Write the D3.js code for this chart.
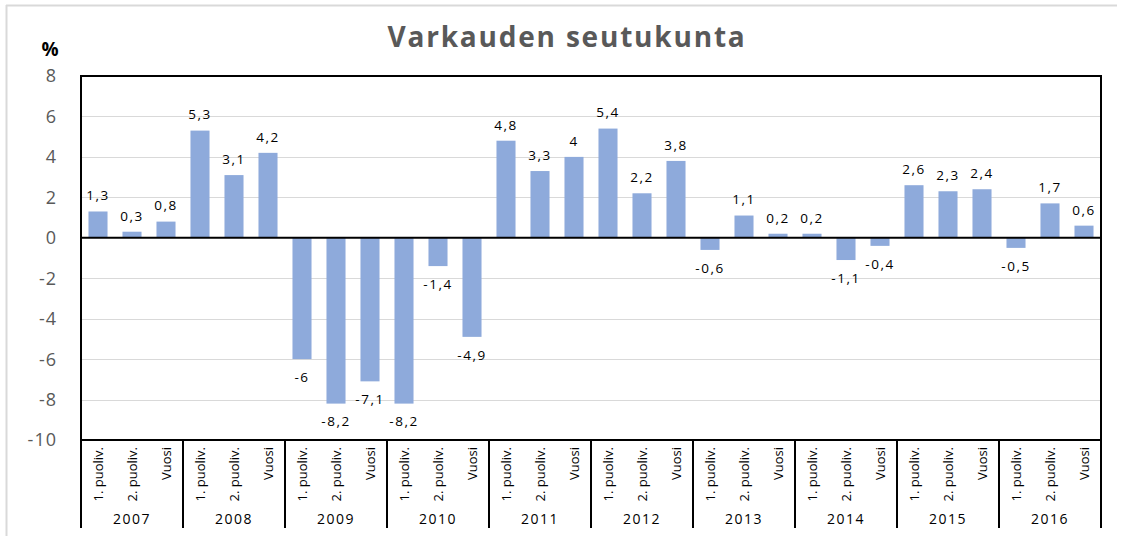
<!DOCTYPE html>
<html>
<head>
<meta charset="utf-8">
<script src="https://cdn.jsdelivr.net/npm/d3@7"></script>
<style>
  body { margin: 0; background: #fff; }
  svg text { font-family: "Open Sans", "Noto Sans", sans-serif; }
</style>
</head>
<body>
<svg id="chart" width="1126" height="536"></svg>
<script>
const years = ["2007", "2008", "2009", "2010", "2011", "2012", "2013", "2014", "2015", "2016"];
const periods = ["1. puoliv.", "2. puoliv.", "Vuosi"];
const values = [
  1.3, 0.3, 0.8,
  5.3, 3.1, 4.2,
  -6, -8.2, -7.1,
  -8.2, -1.4, -4.9,
  4.8, 3.3, 4,
  5.4, 2.2, 3.8,
  -0.6, 1.1, 0.2,
  0.2, -1.1, -0.4,
  2.6, 2.3, 2.4,
  -0.5, 1.7, 0.6
];
const yTicks = [8, 6, 4, 2, 0, -2, -4, -6, -8, -10];

const plotLeft = 81, plotRight = 1101, plotTop = 76, plotBottom = 440, axisBottom = 528;
const svg = d3.select("#chart");

const rows = [];
years.forEach((yr, i) => periods.forEach((p, j) => {
  rows.push({ year: yr, period: p, value: values[i * 3 + j], idx: i * 3 + j });
}));

const x = d3.scaleBand()
  .domain(rows.map(d => d.idx))
  .range([plotLeft, plotRight])
  .paddingInner(0.44)
  .paddingOuter(0.22);
const step = x.step();

const y = d3.scaleLinear().domain([-10, 8]).range([plotBottom, plotTop]);

// outer chart frame (only top and left edges show)
svg.append("line").attr("x1", 6).attr("x2", 1117).attr("y1", 5.5).attr("y2", 5.5)
  .attr("stroke", "#d9d9d9").attr("stroke-width", 2);
svg.append("line").attr("x1", 6.5).attr("x2", 6.5).attr("y1", 5).attr("y2", 536)
  .attr("stroke", "#d9d9d9").attr("stroke-width", 2);

// gridlines
svg.append("g")
  .selectAll("line")
  .data(yTicks.filter(t => t !== 0 && t !== 8 && t !== -10))
  .join("line")
  .attr("x1", plotLeft).attr("x2", plotRight)
  .attr("y1", d => Math.round(y(d)) + 0.5).attr("y2", d => Math.round(y(d)) + 0.5)
  .attr("stroke", "#d9d9d9").attr("stroke-width", 1);

// y tick labels
svg.append("g")
  .selectAll("text")
  .data(yTicks)
  .join("text")
  .attr("x", 57)
  .attr("y", d => y(d))
  .attr("dy", "0.36em")
  .attr("text-anchor", "end")
  .attr("font-size", 18)
  .attr("letter-spacing", 1)
  .attr("fill", "#595959")
  .text(d => d);

// bars
svg.append("g")
  .selectAll("rect")
  .data(rows)
  .join("rect")
  .attr("x", d => x(d.idx))
  .attr("width", x.bandwidth())
  .attr("y", d => y(Math.max(0, d.value)))
  .attr("height", d => Math.abs(y(d.value) - y(0)))
  .attr("fill", "#8eaadb");

// data labels
const fmt = v => String(v).replace(".", ",");
svg.append("g")
  .selectAll("text")
  .data(rows)
  .join("text")
  .attr("x", d => x(d.idx) + x.bandwidth() / 2)
  .attr("y", d => d.value >= 0 ? y(d.value) - 16 : y(d.value) + 18)
  .attr("dy", "0.36em")
  .attr("text-anchor", "middle")
  .attr("font-size", 13.5)
  .attr("letter-spacing", 1.5)
  .attr("fill", "#000")
  .text(d => fmt(d.value));

// zero line
svg.append("line")
  .attr("x1", plotLeft).attr("x2", plotRight)
  .attr("y1", y(0)).attr("y2", y(0))
  .attr("stroke", "#000").attr("stroke-width", 2);

// plot frame
svg.append("rect")
  .attr("x", plotLeft).attr("y", plotTop)
  .attr("width", plotRight - plotLeft).attr("height", plotBottom - plotTop)
  .attr("fill", "none").attr("stroke", "#000").attr("stroke-width", 2);

// category axis: group separators
svg.append("g")
  .selectAll("line")
  .data(d3.range(years.length + 1))
  .join("line")
  .attr("x1", i => plotLeft + i * 3 * step)
  .attr("x2", i => plotLeft + i * 3 * step)
  .attr("y1", plotBottom).attr("y2", axisBottom)
  .attr("stroke", "#000").attr("stroke-width", 2);

// period labels (rotated)
svg.append("g")
  .selectAll("text")
  .data(rows)
  .join("text")
  .attr("transform", d => `translate(${x(d.idx) + x.bandwidth() / 2},447) rotate(-90)`)
  .attr("dy", "0.36em")
  .attr("text-anchor", "end")
  .attr("font-size", 13)
  .attr("fill", "#000")
  .text(d => d.period);

// year labels
svg.append("g")
  .selectAll("text")
  .data(years)
  .join("text")
  .attr("x", (d, i) => x(i * 3 + 1) + x.bandwidth() / 2)
  .attr("y", 519)
  .attr("dy", "0.36em")
  .attr("text-anchor", "middle")
  .attr("font-size", 14)
  .attr("letter-spacing", 1.5)
  .attr("fill", "#000")
  .text(d => d);

// title
svg.append("text")
  .attr("x", 567).attr("y", 47)
  .attr("text-anchor", "middle")
  .attr("font-size", 28)
  .attr("font-weight", "bold")
  .attr("letter-spacing", 1.8)
  .attr("fill", "#595959")
  .text("Varkauden seutukunta");

// unit
svg.append("text")
  .attr("x", 50).attr("y", 56)
  .attr("text-anchor", "middle")
  .attr("font-size", 19)
  .attr("font-weight", "bold")
  .attr("fill", "#000")
  .text("%");
</script>
</body>
</html>
